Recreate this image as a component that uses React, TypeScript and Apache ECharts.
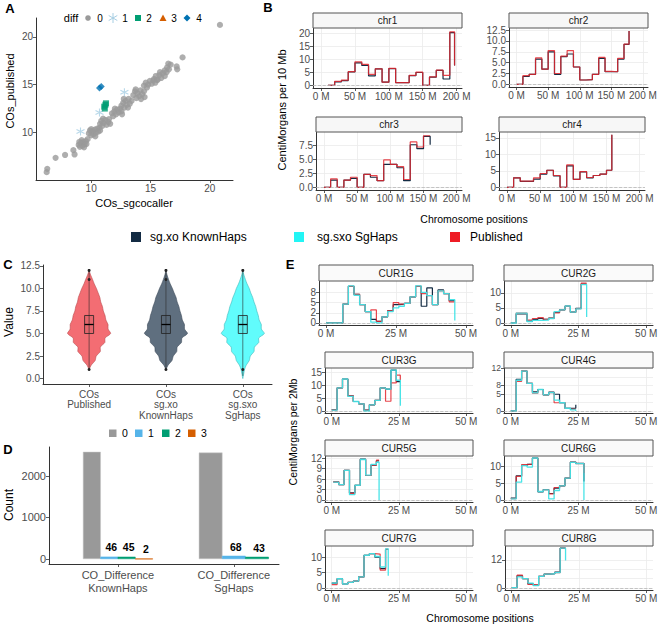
import React, { useEffect, useRef } from 'react';
import * as echarts from 'echarts';

const FONT = '"Liberation Sans", Arial, Helvetica, sans-serif';
const TICK_COLOR = '#4D4D4D';
const AXIS_COLOR = '#333333';
const GRID_COLOR = '#EBEBEB';
const C_KNOWN = '#132B43';
const C_SG = '#3FE3E6';
const C_PUB = '#E3262E';

// ---------------- Panel A : COs_sgcocaller vs COs_published ----------------
const diff0Points: number[][] = [
  [6.25, 5.85], [6.3, 6.2], [7.0, 7.35], [7.8, 7.65], [8.5, 8.15], [8.6, 7.7],
  [8.95, 8.7], [9.05, 8.5], [9.15, 8.9], [9.25, 8.6], [9.35, 9.0], [9.45, 8.75], [9.55, 9.1], [9.6, 8.8], [9.2, 9.2], [9.7, 9.3], [9.0, 9.0], [9.4, 8.45],
  [9.8, 9.9], [9.9, 10.2], [10.0, 9.7], [10.1, 10.1], [10.2, 9.8], [10.3, 10.3], [10.4, 10.0], [10.5, 10.4], [10.6, 10.1], [10.7, 10.5], [10.0, 10.35], [10.35, 9.6], [10.75, 10.2],
  [10.75, 10.9], [10.85, 11.2], [10.95, 10.7], [11.05, 11.0], [11.2, 11.3], [11.3, 10.8], [11.45, 11.1], [11.6, 10.9], [11.0, 11.45], [11.5, 11.4],
  [11.75, 12.0], [11.85, 11.7], [11.95, 12.2], [12.1, 11.9], [12.2, 12.4], [12.3, 12.1], [12.45, 12.5], [12.55, 12.2], [12.0, 12.5], [12.6, 11.9],
  [12.55, 12.8], [12.7, 13.1], [12.8, 12.6], [12.9, 13.3], [13.0, 12.9], [13.15, 13.5], [13.25, 13.0], [13.4, 13.3], [13.1, 12.6], [12.75, 13.5],
  [13.55, 13.9], [13.7, 14.3], [13.8, 13.6], [13.9, 14.1], [14.05, 13.8], [14.15, 14.4], [14.3, 14.0], [14.45, 14.3], [14.5, 13.7], [13.75, 14.5], [14.2, 13.5],
  [14.45, 14.9], [14.6, 15.2], [14.8, 15.0], [14.95, 15.4], [15.1, 15.1], [15.25, 15.45], [15.4, 15.2], [15.55, 15.5], [14.7, 14.7],
  [15.3, 15.6], [15.45, 15.9], [15.6, 15.5], [15.75, 16.0], [15.9, 15.7], [16.05, 16.2], [16.2, 15.9], [16.35, 16.3], [15.8, 16.3],
  [16.2, 16.5], [16.4, 16.8], [16.55, 16.6], [16.7, 17.1], [16.5, 17.2],
  [17.2, 16.9], [17.25, 16.6], [17.7, 17.85], [20.85, 21.25],
];
const diff1Points: number[][] = [[9.1, 10.1], [10.7, 12.1], [12.8, 14.2]];
const diff2Points: number[][] = [[11.1, 12.7], [11.2, 12.9], [11.25, 13.05], [11.15, 12.5]];
const diff3Points: number[][] = [];
const diff4Points: number[][] = [[10.7, 14.65], [10.85, 14.8]];

// ---------------- Panel B : cM per 10 Mb (positions in Mb) ----------------
const chr1Pos = [10, 20, 30, 40, 50, 60, 70, 80, 90, 100, 110, 120, 130, 140, 150, 160, 170, 180, 190, 197];
const chr1Pub = [0, 1.5, 2, 5.2, 9, 8, 4.2, 6.3, 1.2, 6.5, 1, 1, 3.8, 5, 0, 3.2, 5.8, 3.8, 20.5, 7.6];
const chr1Known = [0, 1.3, 1.8, 5.1, 8.6, 7.6, 3.6, 6.3, 1.2, 6.4, 1, 1, 3.7, 4.9, 0, 3.1, 5.7, 2.4, 20.2, 7.6];
const chr2Pos = [0, 10, 20, 30, 40, 50, 60, 70, 80, 90, 100, 110, 120, 130, 140, 150, 160, 170, 178];
const chr2Pub = [0, 2, 2.3, 6.1, 3.5, 7.8, 2.5, 6.5, 7.8, 4, 1, 1.1, 2.3, 6.2, 3, 2.9, 6, 9.3, 12.3];
const chr2Known = [0, 1.8, 2.3, 5.8, 3.5, 7.5, 2.3, 6.4, 7.0, 4, 1, 1.1, 2.3, 6.0, 2.9, 2.9, 5.8, 9.2, 12.3];
const chr3Pos = [0, 10, 20, 30, 40, 50, 60, 70, 80, 90, 100, 110, 120, 130, 140, 150, 160];
const chr3Pub = [0, 1.5, 0, 1.3, 1.8, 0, 2.3, 2.1, 1.2, 4.9, 4.1, 3.7, 1.4, 8.1, 7.2, 9.2, 9.2];
const chr3Known = [0, 1.3, 0, 1.3, 1.6, 0, 2.3, 1.8, 1.2, 4.1, 4.1, 3.5, 1.2, 7.6, 6.9, 9.1, 7.6];
const chr4Pos = [0, 10, 20, 30, 40, 50, 60, 70, 80, 90, 100, 110, 120, 130, 140, 150, 158];
const chr4Pub = [0, 2.9, 1.9, 1.9, 2.9, 4.2, 5.2, 3.6, 0, 6.8, 2.4, 4.8, 3.0, 3.6, 4.0, 5.2, 16];
const chr4Known = [0, 2.9, 1.8, 1.8, 2.5, 4.0, 5.2, 3.5, 0, 6.5, 2.4, 4.7, 2.9, 3.6, 4.0, 5.2, 16];
const bTicksX = [0, 50, 100, 150, 200];

// ---------------- Panel C : violins (half-width profile at 0, 0.5, ... 12) ----------------
const cCategories = ['COs\nPublished', 'COs\nsg.xo\nKnownHaps', 'COs\nsg.sxo\nSgHaps'];
const cDensPub = [0, 0, 0, 0.1, 0.28, 0.33, 0.52, 0.52, 0.73, 0.74, 1.0, 0.88, 0.88, 0.78, 0.74, 0.66, 0.62, 0.54, 0.5, 0.42, 0.34, 0.24, 0.16, 0.07, 0];
const cDensKnown = [0, 0, 0, 0.1, 0.28, 0.34, 0.5, 0.52, 0.72, 0.74, 1.0, 0.86, 0.86, 0.76, 0.72, 0.65, 0.6, 0.52, 0.47, 0.38, 0.3, 0.2, 0.12, 0.05, 0];
const cDensSg = [0, 0.04, 0.08, 0.16, 0.3, 0.35, 0.52, 0.54, 0.74, 0.74, 1.0, 0.86, 0.86, 0.76, 0.72, 0.65, 0.6, 0.52, 0.46, 0.37, 0.3, 0.2, 0.12, 0.05, 0];
const cQ1 = [5, 5, 5];
const cMedian = [6, 6, 6];
const cQ3 = [7, 7, 7];
const cOutliers = [[1, 11, 12], [1, 11, 12], [1, 12]];
const cWhiskerLow = [1, 1, 0.3];
const cWhiskerHigh = [12, 12, 12];

// ---------------- Panel D : counts of CO difference ----------------
const dCategories = ['CO_Difference\nKnownHaps', 'CO_Difference\nSgHaps'];
const dDiffLevels = ['0', '1', '2', '3'];
const dKnownCounts = [2578, 46, 45, 2];
const dSgCounts = [2560, 68, 43];

// ---------------- Panel E : cM per 2 Mb (positions in Mb) ----------------
const cur1Pos = [0, 2, 4, 6, 8, 10, 12, 14, 16, 18, 20, 22, 24, 26, 28, 30, 32, 34, 36, 38, 40, 42, 44, 46];
const cur1Sg = [0, 0, 0, 4.6, 9.1, 6.8, 4.5, 2.8, 0.2, 0, 1.5, 2.8, 3.7, 4.1, 4.8, 6.4, 9.1, 7.5, 6.7, 4.5, 7.9, 7.2, 5.7, 0.6];
const cur1Pub = [0, 0, 0, 4.6, 9.0, 7.0, 4.5, 2.8, 3.2, 0.4, 1.5, 3.0, 5.0, 4.6, 4.8, 6.4, 9.0, 7.2, 6.7, 4.5, 7.9, 7.2, 5.2, 5.2];
const cur1Known = [0, 0, 0, 4.6, 9.0, 7.0, 4.5, 2.8, 0.9, 0.4, 1.5, 3.0, 4.5, 4.6, 4.8, 6.4, 9.0, 4.1, 8.6, 4.5, 8.1, 7.2, 5.5, 5.5];
const cur2Pos = [0, 2, 4, 6, 8, 10, 12, 14, 16, 18, 20, 22, 24, 26, 28];
const cur2Sg = [0, 3.3, 3.3, 0.5, 0.9, 0.9, 1.0, 1.5, 3.8, 4.4, 5.6, 3.6, 4.7, 12.8, 2.0];
const cur2Pub = [0, 3.3, 3.3, 1.0, 1.5, 1.8, 1.2, 1.6, 3.4, 4.4, 5.5, 3.6, 4.8, 13.3, 13.3];
const cur2Known = [0, 3.0, 3.0, 0.6, 1.2, 1.5, 1.2, 1.6, 3.5, 4.4, 5.6, 3.6, 4.9, 13.0, 13.0];
const cur3Pos = [0, 2, 4, 6, 8, 10, 12, 14, 16, 18, 20, 22, 24, 25.5];
const cur3Sg = [0.3, 9, 12.5, 5.7, 3.7, 2.8, 0, 2.4, 4.1, 9, 8.5, 16, 12, 2];
const cur3Pub = [0.4, 9, 12.5, 5.9, 3.7, 2.8, 0.2, 2.4, 4.1, 9, 3.8, 11, 14, 12];
const cur3Known = [0.5, 9, 12.5, 5.9, 3.7, 2.8, 0.3, 2.4, 4.1, 9, 8.5, 16, 11.5, 11.5];
const cur4Pos = [0, 2, 4, 6, 8, 10, 12, 14, 16, 18, 20, 22, 24];
const cur4Sg = [0, 9, 11.7, 8.1, 5.3, 6.3, 4.7, 5.4, 3.2, 2.4, 0.8, 0.3, 0];
const cur4Pub = [0, 8.7, 11.7, 8.1, 5.2, 6.3, 4.7, 5.4, 2.4, 2.4, 0.8, 0.5, 0.5];
const cur4Known = [0, 9.3, 11.7, 8.1, 5.6, 6.3, 4.7, 5.5, 4.9, 2.4, 0.8, 0.8, 1.8];
const cur5Pos = [0.6, 2.6, 4.6, 6.6, 8.6, 10.6, 12.6, 14.6, 16.6, 17.6];
const cur5Sg = [5.1, 4.4, 8.5, 1.5, 4.2, 11.6, 7.1, 10.2, 10.8, 0];
const cur5Pub = [5.2, 4.4, 8.5, 1.9, 4.2, 11.6, 7.0, 10.0, 11.4, 11.4];
const cur5Known = [5.2, 4.4, 8.5, 2.0, 4.2, 11.7, 7.0, 10.0, 11.2, 11.2];
const cur6Pos = [0, 2, 4, 6, 8, 10, 12, 14, 16, 18, 20, 22, 24, 27];
const cur6Sg = [0.3, 5.3, 10.2, 9.8, 12.5, 2.5, 3.0, 0.3, 2.8, 4.2, 6.5, 11.2, 10.8, 0];
const cur6Pub = [0.4, 7.0, 10.5, 10.7, 12.5, 2.5, 3.0, 1.8, 3.7, 4.2, 6.5, 11.2, 10.8, 8];
const cur6Known = [0.5, 7.2, 10.3, 10.6, 12.5, 2.4, 3.1, 1.9, 3.5, 4.2, 6.5, 11.3, 10.9, 5.5];
const cur7Pos = [0, 2, 4, 6, 8, 10, 12, 14, 16, 18, 20, 21];
const cur7Sg = [1.6, 3.0, 1.3, 1.8, 2.2, 3.6, 10.6, 11.1, 10.2, 6.8, 12.7, 4];
const cur7Pub = [1.1, 3.0, 1.3, 1.8, 2.2, 3.6, 10.6, 11.1, 11.0, 5.8, 12.5, 12.5];
const cur7Known = [1.6, 3.0, 1.3, 1.8, 2.2, 3.6, 10.6, 11.1, 10.0, 6.3, 12.5, 12.5];
const cur8Pos = [0, 2, 4, 6, 8, 10, 12, 14, 16, 18, 20];
const cur8Sg = [0.2, 4.8, 4.0, 2.1, 1.0, 5.0, 5.9, 6.1, 6.6, 17.0, 11.8];
const cur8Pub = [0.2, 5.5, 4.0, 1.5, 1.2, 5.0, 5.9, 6.1, 6.6, 17.0, 17.0];
const cur8Known = [0.2, 5.2, 4.0, 1.8, 1.2, 5.0, 5.9, 6.1, 6.8, 17.0, 17.0];
const eTicksX = [0, 25, 50];

// ---------------- helpers ----------------
const fmtPlain = (v: number) => String(v);
const fmtFixed1 = (v: number) => v.toFixed(1);
const fmtM = (v: number) => v + ' M';
const fmtRound = (v: number) => (v === 2.5 ? '2' : v === 7.5 ? '8' : v === 12.5 ? '12' : String(v));

function mkGrid(left: number, top: number, width: number, height: number) {
  return { left, top, width, height, containLabel: false, outerBoundsMode: 'none', show: false };
}

function mkAxis(kind: 'x' | 'y', gridIndex: number, min: number, max: number, ticks: number[], fmt: (v: number) => string, o: any = {}) {
  return {
    type: 'value',
    gridIndex,
    min,
    max,
    position: kind === 'x' ? 'bottom' : 'left',
    offset: o.offset ?? 0,
    axisLine: { show: true, onZero: false, lineStyle: { color: AXIS_COLOR, width: 1 } },
    axisTick: { show: true, length: 3, customValues: ticks, lineStyle: { color: AXIS_COLOR, width: 0.8 } },
    axisLabel: {
      customValues: ticks,
      formatter: (v: number) => fmt(v),
      color: TICK_COLOR,
      fontSize: o.fontSize ?? 10,
      fontFamily: FONT,
      margin: o.margin ?? 3,
      lineHeight: o.lineHeight,
      hideOverlap: false,
      showMinLabel: true,
      showMaxLabel: true,
    },
    splitLine: { show: !!o.split, lineStyle: { color: GRID_COLOR, width: 0.8 } },
    minorSplitLine: { show: false },
    axisPointer: { show: false },
  };
}

const stepData = (pos: number[], vals: number[]) => pos.map((p, i) => [p, vals[i]]);

function textEl(x: number, y: number, text: string, o: any = {}) {
  const align = o.align ?? 'center';
  const valign = o.valign ?? 'middle';
  return {
    type: 'text',
    x,
    y,
    rotation: o.rot ?? 0,
    silent: true,
    z: 100,
    style: {
      text,
      fill: o.fill ?? '#000000',
      fontSize: o.size ?? 11,
      fontFamily: FONT,
      fontWeight: o.weight ?? 'normal',
      align,
      verticalAlign: valign,
      textAlign: align,
      textVerticalAlign: valign,
    },
  };
}

function buildOption() {
  const grids: any[] = [];
  const xAxes: any[] = [];
  const yAxes: any[] = [];
  const series: any[] = [];
  const graphics: any[] = [];

  // ---------- Panel A ----------
  grids.push(mkGrid(36, 18, 197, 162));
  xAxes.push(mkAxis('x', 0, 5.35, 21.95, [10, 15, 20], fmtPlain));
  yAxes.push(mkAxis('y', 0, 5.03, 21.97, [10, 15, 20], fmtPlain));
  const asterisk = 'path://M5,0L5,10M0.67,2.5L9.33,7.5M0.67,7.5L9.33,2.5';
  series.push(
    { type: 'scatter', name: 'diff0', xAxisIndex: 0, yAxisIndex: 0, data: diff0Points, symbol: 'circle', symbolSize: 6.2, itemStyle: { color: '#9A9A9A' }, z: 2 },
    { type: 'scatter', name: 'diff1', xAxisIndex: 0, yAxisIndex: 0, data: diff1Points, symbol: asterisk, symbolSize: 8, itemStyle: { color: 'rgba(0,0,0,0)', borderColor: '#A6CEE3', borderWidth: 1.1 }, z: 3 },
    { type: 'scatter', name: 'diff2', xAxisIndex: 0, yAxisIndex: 0, data: diff2Points, symbol: 'rect', symbolSize: 6, itemStyle: { color: '#009E73' }, z: 3 },
    { type: 'scatter', name: 'diff3', xAxisIndex: 0, yAxisIndex: 0, data: diff3Points, symbol: 'triangle', symbolSize: 7, itemStyle: { color: '#D55E00' }, z: 3 },
    { type: 'scatter', name: 'diff4', xAxisIndex: 0, yAxisIndex: 0, data: diff4Points, symbol: 'diamond', symbolSize: 7, itemStyle: { color: '#0072B2' }, z: 3 },
  );
  graphics.push(textEl(10, 8, 'A', { size: 13, weight: 'bold' }));
  graphics.push(textEl(10, 91, 'COs_published', { rot: Math.PI / 2, size: 11 }));
  graphics.push(textEl(134, 203, 'COs_sgcocaller', { size: 11 }));
  // legend A
  graphics.push(textEl(71, 18, 'diff', { size: 11 }));
  graphics.push({ type: 'circle', shape: { cx: 88, cy: 18, r: 2.8 }, style: { fill: '#9A9A9A' }, silent: true });
  graphics.push(textEl(100, 18, '0', { size: 10 }));
  [[113, 13, 113, 23], [108.7, 15.5, 117.3, 20.5], [108.7, 20.5, 117.3, 15.5]].forEach((l) =>
    graphics.push({ type: 'line', shape: { x1: l[0], y1: l[1], x2: l[2], y2: l[3] }, style: { stroke: '#A6CEE3', lineWidth: 1 }, silent: true }));
  graphics.push(textEl(125, 18, '1', { size: 10 }));
  graphics.push({ type: 'rect', shape: { x: 135, y: 15, width: 6, height: 6 }, style: { fill: '#009E73' }, silent: true });
  graphics.push(textEl(149, 18, '2', { size: 10 }));
  graphics.push({ type: 'polygon', shape: { points: [[163, 14.5], [159.5, 21], [166.5, 21]] }, style: { fill: '#D55E00' }, silent: true });
  graphics.push(textEl(174, 18, '3', { size: 10 }));
  graphics.push({ type: 'polygon', shape: { points: [[187, 14.5], [190.5, 18], [187, 21.5], [183.5, 18]] }, style: { fill: '#0072B2' }, silent: true });
  graphics.push(textEl(199, 18, '4', { size: 10 }));

  // ---------- Panel B ----------
  const bPanels = [
    { name: 'chr1', left: 313, top: 28, width: 149, height: 60, ymin: -1.05, ymax: 21.95, yt: [0, 5, 10, 15, 20], fmt: fmtPlain, pos: chr1Pos, known: chr1Known, pub: chr1Pub },
    { name: 'chr2', left: 509, top: 28, width: 139, height: 59, ymin: -0.62, ymax: 13.0, yt: [0, 2.5, 5, 7.5, 10, 12.5], fmt: fmtFixed1, pos: chr2Pos, known: chr2Known, pub: chr2Pub },
    { name: 'chr3', left: 316, top: 132, width: 146, height: 58, ymin: -0.47, ymax: 9.87, yt: [0, 2.5, 5, 7.5], fmt: fmtFixed1, pos: chr3Pos, known: chr3Known, pub: chr3Pub },
    { name: 'chr4', left: 499, top: 132, width: 146, height: 58, ymin: -0.8, ymax: 16.8, yt: [0, 5, 10, 15], fmt: fmtPlain, pos: chr4Pos, known: chr4Known, pub: chr4Pub },
  ];
  bPanels.forEach((p) => {
    const gi = grids.length;
    grids.push(mkGrid(p.left, p.top, p.width, p.height));
    xAxes.push(mkAxis('x', gi, -12, 208, bTicksX, fmtM, { split: true }));
    yAxes.push(mkAxis('y', gi, p.ymin, p.ymax, p.yt, p.fmt, { split: true }));
    series.push({
      type: 'line', name: 'sg.xo KnownHaps', xAxisIndex: gi, yAxisIndex: gi, step: 'end', showSymbol: false, symbol: 'none',
      data: stepData(p.pos, p.known), lineStyle: { color: C_KNOWN, width: 1.2 }, itemStyle: { color: C_KNOWN }, z: 3,
      markLine: { silent: true, symbol: ['none', 'none'], label: { show: false }, lineStyle: { type: 'dashed', color: '#B8B8B8', width: 0.8 }, data: [{ yAxis: 0 }] },
    });
    series.push({
      type: 'line', name: 'Published', xAxisIndex: gi, yAxisIndex: gi, step: 'end', showSymbol: false, symbol: 'none',
      data: stepData(p.pos, p.pub), lineStyle: { color: C_PUB, width: 1.2, opacity: 0.85 }, itemStyle: { color: C_PUB }, z: 4,
    });
    graphics.push({ type: 'rect', shape: { x: p.left, y: p.top - 15, width: p.width, height: 15 }, style: { fill: '#F7F7F7', stroke: '#555555', lineWidth: 1 }, silent: true, z: 90 });
    graphics.push(textEl(p.left + p.width / 2, p.top - 7.5, p.name, { size: 10, fill: '#1A1A1A' }));
  });
  graphics.push(textEl(268, 7, 'B', { size: 13, weight: 'bold' }));
  graphics.push(textEl(282, 110, 'CentiMorgans per 10 Mb', { rot: Math.PI / 2, size: 11 }));
  graphics.push(textEl(474, 219, 'Chromosome positions', { size: 10.5 }));

  // shared legend row
  graphics.push({ type: 'rect', shape: { x: 131, y: 232, width: 10, height: 10 }, style: { fill: C_KNOWN }, silent: true });
  graphics.push(textEl(150, 237, 'sg.xo KnownHaps', { size: 12, align: 'left' }));
  graphics.push({ type: 'rect', shape: { x: 294, y: 232, width: 10, height: 10 }, style: { fill: '#22F5F5' }, silent: true });
  graphics.push(textEl(317, 237, 'sg.sxo SgHaps', { size: 12, align: 'left' }));
  graphics.push({ type: 'rect', shape: { x: 450, y: 232, width: 10, height: 10 }, style: { fill: '#EE1C25' }, silent: true });
  graphics.push(textEl(470, 237, 'Published', { size: 12, align: 'left' }));

  // ---------- Panel C ----------
  const cGi = grids.length;
  grids.push(mkGrid(43, 265, 229, 119));
  xAxes.push(mkAxis('x', cGi, 0.4, 3.38, [1, 2, 3], (v) => cCategories[Math.round(v) - 1], { margin: 5, lineHeight: 10.5 }));
  yAxes.push(mkAxis('y', cGi, -0.6, 12.6, [0, 2.5, 5, 7.5, 10, 12.5], fmtFixed1));
  const cDens = [cDensPub, cDensKnown, cDensSg];
  const cFill = ['rgba(238,40,48,0.68)', 'rgba(19,43,67,0.68)', 'rgba(0,250,250,0.62)'];
  const cStroke = ['#B94A4E', '#3A4858', '#3BB7B9'];
  series.push({
    type: 'custom', xAxisIndex: cGi, yAxisIndex: cGi, z: 3,
    data: cCategories.map((_, i) => [i + 1, cMedian[i]]),
    encode: { x: 0, y: 1 },
    renderItem: (params: any, api: any) => {
      const i = params.dataIndex;
      const dens = cDens[i];
      const unit = api.size([1, 0])[0];
      const half = unit * 0.28;
      const cx = api.coord([i + 1, 0])[0];
      let first = 0;
      while (first < dens.length - 1 && dens[first + 1] === 0) first++;
      let last = dens.length - 1;
      while (last > 0 && dens[last - 1] === 0) last--;
      const right: number[][] = [];
      const left: number[][] = [];
      for (let j = first; j <= last; j++) {
        const y = api.coord([i + 1, j * 0.5])[1];
        right.push([cx + dens[j] * half, y]);
        left.unshift([cx - dens[j] * half, y]);
      }
      const bw = 4.5;
      const yq1 = api.coord([i + 1, cQ1[i]])[1];
      const yq3 = api.coord([i + 1, cQ3[i]])[1];
      const ymed = api.coord([i + 1, cMedian[i]])[1];
      const ylo = api.coord([i + 1, cWhiskerLow[i]])[1];
      const yhi = api.coord([i + 1, cWhiskerHigh[i]])[1];
      const children: any[] = [
        { type: 'polygon', shape: { points: right.concat(left), smooth: 0.25 }, style: { fill: cFill[i], stroke: cStroke[i], lineWidth: 0.6 } },
        { type: 'line', shape: { x1: cx, y1: yhi, x2: cx, y2: ylo }, style: { stroke: '#2A2A2A', lineWidth: 0.6 } },
        { type: 'rect', shape: { x: cx - bw, y: yq3, width: bw * 2, height: yq1 - yq3 }, style: { fill: 'rgba(0,0,0,0.06)', stroke: '#222222', lineWidth: 0.8 } },
        { type: 'line', shape: { x1: cx - bw, y1: ymed, x2: cx + bw, y2: ymed }, style: { stroke: '#000000', lineWidth: 1.3 } },
      ];
      cOutliers[i].forEach((o) => {
        const yy = api.coord([i + 1, o])[1];
        children.push({ type: 'circle', shape: { cx, cy: yy, r: 1.5 }, style: { fill: '#222222' } });
      });
      return { type: 'group', children };
    },
  });
  graphics.push(textEl(8, 264, 'C', { size: 13, weight: 'bold' }));
  graphics.push(textEl(9, 322, 'Value', { rot: Math.PI / 2, size: 12 }));

  // ---------- Panel D ----------
  const dGi = grids.length;
  grids.push(mkGrid(49, 447, 230, 117));
  xAxes.push(mkAxis('x', dGi, 0.405, 2.39, [1, 2], (v) => dCategories[Math.round(v) - 1], { fontSize: 11, margin: 4, lineHeight: 13 }));
  yAxes.push(mkAxis('y', dGi, -125, 2700, [0, 1000, 2000], fmtPlain, { fontSize: 11 }));
  const dColors = ['#999999', '#56B4E9', '#009E73', '#D55E00'];
  const dRows: number[][] = [];
  [dKnownCounts, dSgCounts].forEach((counts, g) => {
    const n = counts.length;
    counts.forEach((c, k) => {
      dRows.push([g + 1 + (k - (n - 1) / 2) * (0.6 / n), c, k, n]);
    });
  });
  series.push({
    type: 'custom', xAxisIndex: dGi, yAxisIndex: dGi, z: 3,
    data: dRows,
    encode: { x: 0, y: 1 },
    renderItem: (params: any, api: any) => {
      const x = api.value(0);
      const v = api.value(1);
      const k = api.value(2);
      const n = api.value(3);
      const w = api.size([0.6 / n, 0])[0];
      const top = api.coord([x, v]);
      const base = api.coord([x, 0]);
      const children: any[] = [
        { type: 'rect', shape: { x: top[0] - w / 2, y: top[1], width: w, height: Math.max(base[1] - top[1], 0.4) }, style: { fill: dColors[k], stroke: k === 0 ? '#C8C8C8' : dColors[k], lineWidth: 0.5 } },
      ];
      if (k > 0) {
        children.push({ type: 'text', x: top[0] + 2, y: top[1] - 4, style: { text: String(v), fill: '#000', fontSize: 10.5, fontWeight: 'bold', fontFamily: FONT, align: 'center', verticalAlign: 'bottom', textAlign: 'center', textVerticalAlign: 'bottom' } });
      }
      return { type: 'group', children };
    },
  });
  graphics.push(textEl(8, 449, 'D', { size: 13, weight: 'bold' }));
  graphics.push(textEl(9, 505, 'Count', { rot: Math.PI / 2, size: 12 }));
  // legend D
  const dLegX = [109, 135, 162, 188];
  dDiffLevels.forEach((lv, k) => {
    graphics.push({ type: 'rect', shape: { x: dLegX[k], y: 429.5, width: 7.5, height: 7.5 }, style: { fill: dColors[k] }, silent: true });
    graphics.push(textEl(dLegX[k] + 16, 433, lv, { size: 10.5 }));
  });

  // ---------- Panel E ----------
  const ePanels = [
    { name: 'CUR1G', left: 319, top: 281, width: 154, height: 44, ymin: -0.5, ymax: 10.3, yt: [0, 2.5, 5, 7.5], pos: cur1Pos, known: cur1Known, pub: cur1Pub, sg: cur1Sg },
    { name: 'CUR2G', left: 504, top: 281, width: 149, height: 44, ymin: -0.67, ymax: 14.0, yt: [0, 5, 10], pos: cur2Pos, known: cur2Known, pub: cur2Pub, sg: cur2Sg },
    { name: 'CUR3G', left: 325, top: 368, width: 148, height: 45, ymin: -0.8, ymax: 16.8, yt: [0, 5, 10, 15], pos: cur3Pos, known: cur3Known, pub: cur3Pub, sg: cur3Sg },
    { name: 'CUR4G', left: 504, top: 368, width: 149, height: 45, ymin: -0.6, ymax: 12.6, yt: [0, 2.5, 5, 7.5, 10, 12.5], fs: 8.5, pos: cur4Pos, known: cur4Known, pub: cur4Pub, sg: cur4Sg },
    { name: 'CUR5G', left: 325, top: 456, width: 148, height: 46, ymin: -0.6, ymax: 12.6, yt: [0, 3, 6, 9, 12], pos: cur5Pos, known: cur5Known, pub: cur5Pub, sg: cur5Sg },
    { name: 'CUR6G', left: 504, top: 456, width: 149, height: 46, ymin: -0.63, ymax: 13.1, yt: [0, 5, 10], pos: cur6Pos, known: cur6Known, pub: cur6Pub, sg: cur6Sg },
    { name: 'CUR7G', left: 325, top: 546, width: 148, height: 44, ymin: -0.65, ymax: 13.6, yt: [0, 5, 10], pos: cur7Pos, known: cur7Known, pub: cur7Pub, sg: cur7Sg },
    { name: 'CUR8G', left: 505, top: 546, width: 148, height: 44, ymin: -0.85, ymax: 17.95, yt: [0, 4, 8, 12], pos: cur8Pos, known: cur8Known, pub: cur8Pub, sg: cur8Sg },
  ];
  ePanels.forEach((p: any) => {
    const gi = grids.length;
    grids.push(mkGrid(p.left, p.top, p.width, p.height));
    xAxes.push(mkAxis('x', gi, -2.5, 52.5, eTicksX, fmtM, { split: true }));
    yAxes.push(mkAxis('y', gi, p.ymin, p.ymax, p.yt, fmtRound, { split: true, fontSize: p.fs ?? 10 }));
    series.push({
      type: 'line', name: 'sg.xo KnownHaps', xAxisIndex: gi, yAxisIndex: gi, step: 'end', showSymbol: false, symbol: 'none',
      data: stepData(p.pos, p.known), lineStyle: { color: C_KNOWN, width: 1.2 }, itemStyle: { color: C_KNOWN }, z: 3,
      markLine: { silent: true, symbol: ['none', 'none'], label: { show: false }, lineStyle: { type: 'dashed', color: '#B8B8B8', width: 0.8 }, data: [{ yAxis: 0 }] },
    });
    series.push({
      type: 'line', name: 'Published', xAxisIndex: gi, yAxisIndex: gi, step: 'end', showSymbol: false, symbol: 'none',
      data: stepData(p.pos, p.pub), lineStyle: { color: C_PUB, width: 1.2, opacity: 0.85 }, itemStyle: { color: C_PUB }, z: 4,
    });
    series.push({
      type: 'line', name: 'sg.sxo SgHaps', xAxisIndex: gi, yAxisIndex: gi, step: 'end', showSymbol: false, symbol: 'none',
      data: stepData(p.pos, p.sg), lineStyle: { color: C_SG, width: 1.3, opacity: 0.95 }, itemStyle: { color: C_SG }, z: 5,
    });
    graphics.push({ type: 'rect', shape: { x: p.left, y: p.top - 16, width: p.width, height: 16 }, style: { fill: '#FAFAFA', stroke: '#555555', lineWidth: 1 }, silent: true, z: 90 });
    graphics.push(textEl(p.left + p.width / 2, p.top - 8, p.name, { size: 10, fill: '#1A1A1A' }));
  });
  graphics.push(textEl(290, 264, 'E', { size: 13, weight: 'bold' }));
  graphics.push(textEl(293, 432, 'CentiMorgans per 2Mb', { rot: Math.PI / 2, size: 10.5 }));
  graphics.push(textEl(480, 618, 'Chromosome positions', { size: 10.5 }));

  return {
    animation: false,
    backgroundColor: '#FFFFFF',
    textStyle: { fontFamily: FONT },
    grid: grids,
    xAxis: xAxes,
    yAxis: yAxes,
    series,
    graphic: { elements: graphics },
  };
}

export default function App() {
  const ref = useRef<HTMLDivElement>(null);
  useEffect(() => {
    if (!ref.current) return;
    const chart = echarts.init(ref.current, null, { renderer: 'svg' });
    chart.setOption(buildOption() as any);
    return () => chart.dispose();
  }, []);
  return (
    <div
      ref={ref}
      style={{ position: 'absolute', left: 0, top: 0, width: 661, height: 625, background: '#FFFFFF' }}
    />
  );
}
